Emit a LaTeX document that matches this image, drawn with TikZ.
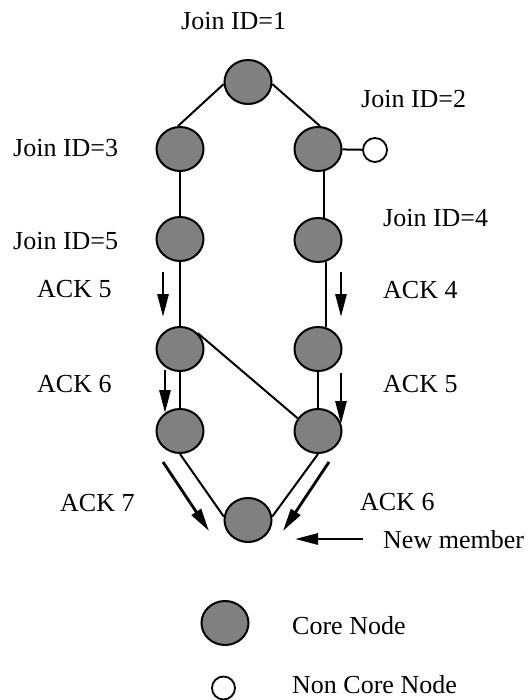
\documentclass[tikz,border=0pt]{standalone}
\usepackage{fontspec}
\setmainfont{Liberation Serif}
\usetikzlibrary{shapes.geometric,arrows.meta}
\begin{document}
\begin{tikzpicture}[x=1pt,y=-1pt,
  core/.style={ellipse,draw=black,line width=2pt,fill=black!50,
    minimum width=47pt,minimum height=44pt,inner sep=0pt},
  noncore/.style={circle,draw=black,line width=1.8pt,fill=white,
    minimum size=24pt,inner sep=0pt},
  link/.style={draw=black,line width=2pt},
  ack/.style={draw=black,line width=2.8pt,
    -{Triangle[length=23pt,width=11pt]}},
  lbl/.style={anchor=base west,inner sep=0pt,font=\fontsize{26}{30}\selectfont}]
\useasboundingbox (0,0) rectangle (531,700);

% tree of core nodes
\node[core] (T)  at (248,82) {};
\node[core] (L1) at (180,149) {};
\node[core] (R1) at (318,149) {};
\node[noncore] (NC) at (375,150) {};
\node[core] (L2) at (180,239) {};
\node[core] (R2) at (318,240) {};
\node[core] (L3) at (180,349) {};
\node[core] (R3) at (318,349) {};
\node[core] (L4) at (180,431) {};
\node[core] (R4) at (318,431) {};
\node[core] (B)  at (248,520) {};

% links
\draw[link] (T.185) -- (L1.95);
\draw[link] (T.355) -- (R1.85);
\draw[link] (R1) -- (NC);
\draw[link] (L1.south) -- (L2.north);
\draw[link] (R1.-76) -- (R2.76);
\draw[link] (L2.south) -- (L3.north);
\draw[link] (R2.-70) -- (R3.70);
\draw[link] (L3.south) -- (L4.north);
\draw[link] (R3.south) -- (R4.north);
\draw[link] (L3.42) -- (R4.148);
\draw[link] (L4.south) -- (B.172);
\draw[link] (R4.south) -- (B.8);

% acknowledgement arrows
\coordinate (a1s) at (163,272);   \coordinate (a1e) at (163,317);
\coordinate (a2s) at (341,272);   \coordinate (a2e) at (341,317);
\coordinate (a3s) at (165,370);   \coordinate (a3e) at (165,413);
\coordinate (a4s) at (341,373);   \coordinate (a4e) at (341,424);
\coordinate (a5s) at (163,462);   \coordinate (a5e) at (209,531);
\coordinate (a6s) at (329,462);   \coordinate (a6e) at (283,531);
\coordinate (a7s) at (363,539);   \coordinate (a7e) at (295,539);
\draw[ack] (a1s) -- (a1e);
\draw[ack] (a2s) -- (a2e);
\draw[ack] (a3s) -- (a3e);
\draw[ack] (a4s) -- (a4e);
\draw[ack] (a5s) -- (a5e);
\draw[ack] (a6s) -- (a6e);
\draw[ack] (a7s) -- (a7e);

% labels
\node[lbl] (j1) at (181,30)  {Join ID=1};
\node[lbl] (j2) at (361,108) {Join ID=2};
\node[lbl] (j3) at (13,157)  {Join ID=3};
\node[lbl] (j4) at (383,227) {Join ID=4};
\node[lbl] (j5) at (13,250)  {Join ID=5};
\node[lbl] (k1) at (37,297)  {ACK 5};
\node[lbl] (k2) at (383,298) {ACK 4};
\node[lbl] (k3) at (37,392)  {ACK 6};
\node[lbl] (k4) at (383,392) {ACK 5};
\node[lbl] (k5) at (60,511)  {ACK 7};
\node[lbl] (k6) at (360,510) {ACK 6};
\node[lbl] (nm) at (383,548) {New member};

% legend
\node[core] (legcore) at (225,623) {};
\node[noncore,minimum size=23pt] (legnc) at (223.5,688) {};
\node[lbl] (lc) at (292,634) {Core Node};
\node[lbl] (ln) at (292,693) {Non Core Node};
\end{tikzpicture}
\end{document}
